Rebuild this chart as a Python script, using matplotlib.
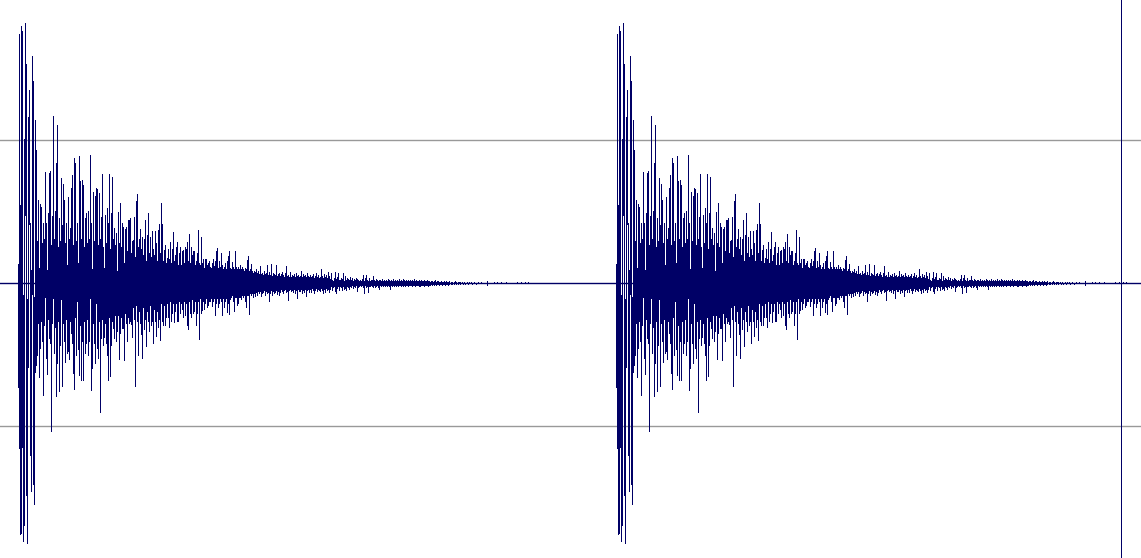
import numpy as np
import matplotlib
matplotlib.use('Agg')
import matplotlib.pyplot as plt

# peak heights, one value per sample column
upper_attack = [19,249,78,257,252,-12,144,260,219,-16,
    166,193,60,13,227,202,-14,163,
    133,42,83,15,79,76,40,60,44,111,
    60,13,70,110,112,38,67,167,44,72,
    120,158,36,65,42,105,58,99,83,40,
    60,18,86,44,55,95,108,38,125,120,
    42,60,20,127,102,44,103,98,36,65,
    70,40,72,44,128,60,14,91,42,87,
    95,94,38,90,44,66,109,36,15,68,
    40,75,60,109,34,70,106,44,55,38,
    50,12,71,40,80,36,60,56,20,54,56,32,63,63]
lower_attack = [104,165,251,250,164,258,242,-68,212,260,
    84,-59,172,208,11,201,221,89,
    82,72,40,94,65,38,58,112,42,14,
    75,91,36,55,60,148,40,15,70,44,
    113,80,38,108,62,16,103,40,58,79,
    36,70,68,76,38,50,60,90,106,34,
    72,18,66,92,42,97,58,97,38,70,
    60,36,72,58,15,107,85,40,60,80,
    20,65,75,38,129,55,36,62,54,40,
    60,72,97,34,93,62,38,45,55,32,
    58,48,32,76,50,34,45,45,77,30,40,58,34,40]

upper_decay = [65,30,42,43,66,26,82,89,36,44,
    54,34,46,28,44,63,22,48,70,30,
    46,26,52,34,28,52,40,22,53,59,
    30,80,59,22,33,38,20,25,34,24,
    41,20,34,51,22,28,36,41,18,30,
    36,18,32,33,20,36,34,41,22,49,
    20,36,28,32,32,18,22,30,53,20,
    18,46,20,24,15,24,24,18,20,22,
    16,15,20,24,17,22,32,35,15,22,
    16,30,18,14,16,20,14,22,27,32,
    15,14,21,16,14,32,16,14,16,14,
    18,14,16,14,12,15,14,23,27,12,
    14,19,12,10,12,11,14,10,12,9,
    17,9,10,8,12,9,10,18,8,11,
    8,19,7,10,9,8,18,7,9,10,
    7,9,11,8,6,10,17,7,8,6,
    11,6,8,7,9,6,10,7,8,6,
    7,12,6,9,7,8,6,10,7,6,
    8,6,7,9,5,7,10,6,8,5,
    6,14,7,5,9,6,8,5,11,7]
lower_decay = [38,41,54,24,36,103,22,38,72,28,
    40,51,75,24,46,36,63,28,38,48,
    22,42,38,60,26,38,53,28,44,36,
    57,20,38,42,22,42,34,20,34,44,
    18,38,30,20,39,28,20,38,38,18,
    30,20,26,34,18,32,20,42,46,18,
    30,34,16,30,28,18,42,30,18,56,
    15,30,27,18,26,20,15,24,22,18,
    18,15,23,18,15,32,20,15,24,20,
    15,18,32,15,24,18,15,29,20,31,
    16,14,12,18,28,14,14,22,20,14,
    14,16,12,14,12,18,24,12,12,31,
    10,12,10,14,10,13,9,12,8,10,
    8,13,10,9,7,12,8,10,9,18,
    10,7,12,8,10,9,7,11,8,12,
    9,6,8,10,7,6,9,8,17,7,
    6,8,7,9,6,10,7,15,6,8,
    8,6,10,7,9,6,13,7,6,9,
    6,9,5,7,10,7,5,8,6,7,
    8,5,7,10,6,9,5,7,6,9]

upper_tail = [4,10,3,2,5,11,4,6,10,3,
    3,5,4,10,2,7,3,5,4,3,
    6,3,5,2,4,3,5,4,3,2,
    3,2,4,8,2,5,8,3,2,5,
    2,3,3,7,3,2,4,3,2,3,
    3,2,4,2,3,2,3,2,4,3,
    2,3,2,4,2,3,2,3,2,4,
    2,3,2,4,3,2,3,2,3,2,
    3,2,3,2,4,2,3,2,2,3,
    2,3,2,2,3,2,2,3,2,2,
    1,2,2,1,2,3,1,2,2,1,
    1,2,1,1,2,1,2,1,1,2,
    0,1,1,0,1,2,1,0,1,1,
    1,0,1,0,1,0,0,1,0,1,
    0,1,0,0,1,0,0,0,1,0,
    0,1,0,0,0,0,0,2,0,0,
    0,0,0,0,1,0,0,1,0,0,
    0,1,0,0,0,0,1,0,0,0,
    0,0,0,0,0,0,0,1,0,0,
    0,1,0,0,0,1,0,0,1,0]
lower_tail = [6,3,7,4,3,8,10,5,3,7,
    3,4,7,3,6,5,7,3,4,6,
    3,4,2,5,3,4,2,8,4,3,
    2,3,2,4,10,2,4,3,9,3,
    3,2,3,4,2,4,3,2,4,6,
    2,3,2,3,2,3,2,3,2,3,
    6,2,3,2,3,2,3,2,3,2,
    2,3,2,3,2,3,2,2,3,2,
    2,2,3,2,2,3,2,2,2,3,
    3,2,2,2,3,2,2,2,3,2,
    2,1,2,1,2,1,2,1,1,2,
    1,1,2,1,1,2,1,1,2,1,
    0,1,1,0,1,0,1,0,1,0,
    1,0,0,1,0,1,0,0,1,0,
    0,0,1,0,0,0,1,0,0,0,
    0,0,0,0,0,0,0,2,0,0,
    0,0,0,0,0,0,0,0,0,0,
    0,0,0,0,0,0,0,0,0,0,
    0,0,0,0,0,0,0,0,0,0,
    0,0,0,0,0,0,0,0,0,0]

hit_starts = [0, 598]
grid_levels = [143, -143]
cursor_pos = 1103

upper = np.array(upper_attack + upper_decay + upper_tail)
lower = np.array(lower_attack + lower_decay + lower_tail)

fig = plt.figure(figsize = (11.41,5.58), dpi = 100)
ax = fig.add_axes([0, 0, 1, 1])
ax.axis('off')

navy = '#000066'

for lev in grid_levels:
    ax.axhline(lev, color = '#999999', linewidth = 1.0, zorder = 1)
ax.axhline(0, color = navy, linewidth = 1.0, zorder = 2)

for start in hit_starts:
    samples = start + np.arange(len(upper))
    ax.vlines(samples, -lower, upper, color = navy, linewidth = 0.72, antialiased = False, zorder = 3)

ax.axvline(cursor_pos, color = navy, linewidth = 0.72, zorder = 4)

ax.set_xlim(-17.5, 1123.5)
ax.set_ylim(-275.5, 282.5)

plt.savefig('out.png', dpi = 100, facecolor = 'white')
